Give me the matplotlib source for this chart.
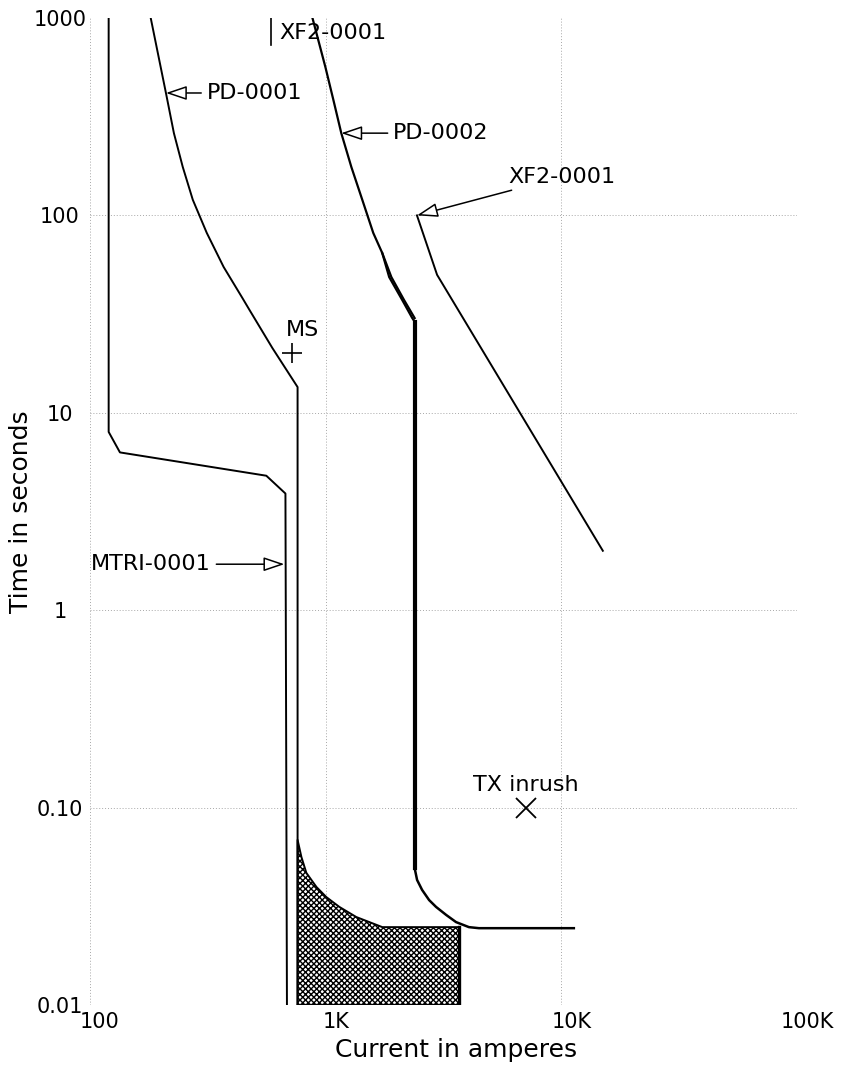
import matplotlib
matplotlib.use("Agg")
import matplotlib.pyplot as plt
import matplotlib.transforms as mtransforms
from matplotlib.ticker import NullLocator

# current (A) / time (s)
mtri_i = [120, 120, 134, 560, 675, 685]
mtri_t = [1000, 8.0, 6.3, 4.8, 3.9, 0.01]

pd1_i = [181, 210, 227, 247.5, 273, 313, 369, 443, 475, 594, 760, 760]
pd1_t = [1000, 417, 261, 176, 120, 81.5, 54.8, 38.2, 33.2, 21.3, 13.5, 0.01]

# instantaneous band of PD-0001 (hatched)
band_i = [760, 760, 789, 828, 914, 1007, 1143, 1349, 1740, 3680, 3680]
band_t = [0.01, 0.0686, 0.0562, 0.0467, 0.0396, 0.0352, 0.0314, 0.0279, 0.0248, 0.0248, 0.01]

pd2_i = [879, 997, 1078, 1165, 1285, 1430, 1592, 1738, 1860, 2112, 2330, 2385]
pd2_t = [1000, 565, 385, 261, 176, 120, 81.5, 64.5, 48.7, 37.3, 30.2, 29.0]
pd2_band_i = [1738, 1900, 2150, 2385]
pd2_band_t = [64.5, 48.7, 37.3, 30.2]
pd2_inst_i = [2385, 2385]
pd2_inst_t = [29.0, 0.0494]
pd2_tail_i = [2385, 2443, 2565, 2748, 2940, 3245, 3575, 4055, 4470, 11300]
pd2_tail_t = [0.0494, 0.0430, 0.0383, 0.0340, 0.0314, 0.0286, 0.0263, 0.0248, 0.0245, 0.0245]

xf2_i = [2440, 2970, 15000]
xf2_t = [100, 50, 2]
xf2_mark_i = [589, 589]
xf2_mark_t = [730, 1000]

ms_i, ms_t = 720, 20
tx_i, tx_t = 7100, 0.1

# labels: text, arrow tip, text anchor
labels = ["PD-0001", "PD-0002", "XF2-0001", "MTRI-0001"]
tips = [(210, 417), (1165, 261), (2440, 100), (668, 1.71)]
texts = [(313, 417), (1935, 261), (5985, 157), (101, 1.71)]

xticks = [100, 1000, 10000, 100000]
xticklabels = ["100", "1K", "10K", "100K"]
yticks = [0.01, 0.1, 1, 10, 100, 1000]
yticklabels = ["0.01", "0.10", "1", "10", "100", "1000"]

plt.rcParams["hatch.linewidth"] = 1.0

fig = plt.figure(figsize=(8.51, 10.70), dpi=100)
ax = fig.add_axes([90 / 851, 65 / 1070, 707 / 851, 987 / 1070])
ax.set_xscale("log")
ax.set_yscale("log")
ax.set_xlim(100, 100000)
ax.set_ylim(0.01, 1000)

for s in ax.spines.values():
    s.set_visible(False)

# dotted grid
for v in xticks:
    ax.axvline(v, color="#a8a8a8", ls=(0, (1, 2)), lw=0.7, zorder=0)
for v in yticks[:-1]:
    ax.axhline(v, color="#a8a8a8", ls=(0, (1, 2)), lw=0.7, zorder=0)

ax.set_xticks(xticks)
ax.set_xticklabels(xticklabels)
ax.set_yticks(yticks)
ax.set_yticklabels(yticklabels)
ax.xaxis.set_minor_locator(NullLocator())
ax.yaxis.set_minor_locator(NullLocator())
ax.tick_params(axis="both", length=0, labelsize=15)
ax.tick_params(axis="x", pad=5)
ax.tick_params(axis="y", pad=21.6)
for lab in ax.get_yticklabels():
    lab.set_ha("center")
off = mtransforms.ScaledTranslation(0.10, 0, fig.dpi_scale_trans)
for lab in ax.get_xticklabels():
    lab.set_transform(lab.get_transform() + off)

ax.set_xlabel("Current in amperes", fontsize=18)
ax.set_ylabel("Time in seconds", fontsize=18)
ax.xaxis.set_label_coords(0.518, -0.033)
ax.yaxis.set_label_coords(-0.081, 0.5)

lw = 1.4
ax.plot(mtri_i, mtri_t, color="black", lw=lw)
ax.plot(pd1_i, pd1_t, color="black", lw=lw)
ax.fill(band_i, band_t, facecolor="white", edgecolor="black", hatch="xxxxxx", lw=0)
ax.plot(band_i[:-1], band_t[:-1], color="black", lw=lw)
ax.plot(band_i[-2:] + band_i[:1], band_t[-2:] + band_t[:1], color="black", lw=2.4)
ax.plot(pd2_i, pd2_t, color="black", lw=1.6)
ax.plot(pd2_band_i, pd2_band_t, color="black", lw=1.6)
ax.plot(pd2_inst_i, pd2_inst_t, color="black", lw=3.0)
ax.plot(pd2_tail_i, pd2_tail_t, color="black", lw=1.8)
ax.plot(xf2_i, xf2_t, color="black", lw=lw)
ax.plot(xf2_mark_i, xf2_mark_t, color="black", lw=1.2)
ax.text(637, 839, "XF2-0001", fontsize=16, ha="left", va="center")

ax.plot(ms_i, ms_t, marker="+", color="black", ms=15, mew=1.2, ls="none")
ax.text(796, 26.2, "MS", fontsize=16, ha="center", va="center")
ax.plot(tx_i, tx_t, marker="x", color="black", ms=15, mew=1.3, ls="none")
ax.text(tx_i, 0.13, "TX inrush", fontsize=16, ha="center", va="center")

for lab, tip, txt in zip(labels, tips, texts):
    ax.annotate(lab, xy=tip, xytext=txt, fontsize=16, ha="left", va="center",
                arrowprops=dict(arrowstyle="-|>,head_length=0.8,head_width=0.27",
                                fc="white", ec="black", lw=1.1, shrinkA=2, shrinkB=0))

fig.savefig("out.png", dpi=100)
